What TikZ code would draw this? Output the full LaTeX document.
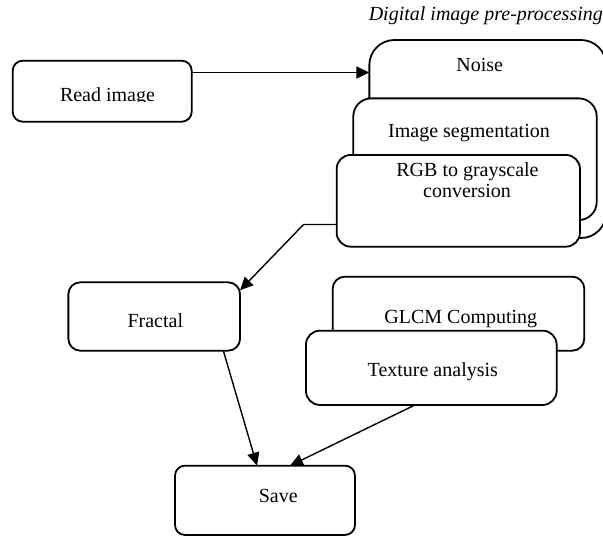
\documentclass[tikz,border=0pt]{standalone}
\usepackage{fontspec}
\setmainfont{Liberation Serif}
\usetikzlibrary{arrows.meta}

\begin{document}
\begin{tikzpicture}[x=1pt,y=-1pt,
  font=\fontsize{20}{24}\selectfont,
  box/.style={draw=black, line width=1.8pt, fill=white, inner sep=0pt, outer sep=0pt},
  lbl/.style={anchor=base, inner sep=0pt},
  arr/.style={line width=1.4pt, -{Triangle[length=13pt,width=12pt]}},
  line join=round]
\useasboundingbox (0,0) rectangle (603,536);

% title of the pre-processing group
\node[lbl, font=\fontsize{20}{24}\selectfont\itshape] (title) at (485.8,20) {Digital image pre-processing};

% first step
\node[box, rounded corners=10pt, minimum width=179pt, minimum height=61pt] (read) at (102.2,91.2) {};
\begin{scope}
  \clip (12,60) rectangle (192,101.2);
  \node[lbl] (readtxt) at (107.5,101.6) {Read image};
\end{scope}

% stacked pre-processing boxes
\node[box, rounded corners=25pt, minimum width=236.7pt, minimum height=198pt] (noise) at (487.7,139) {};
\node[lbl] (noisetxt) at (479.7,71.5) {Noise};
\node[box, rounded corners=18pt, minimum width=243.4pt, minimum height=121.7pt] (seg) at (475,159.2) {};
\node[lbl] (segtxt) at (469,137.5) {Image segmentation};
\node[box, rounded corners=14pt, minimum width=243.3pt, minimum height=91.7pt] (rgb) at (458.3,200.8) {};
\node[lbl] (rgbtxta) at (467.5,176) {RGB to grayscale};
\node[lbl] (rgbtxtb) at (467,197.3) {conversion};

% fractal step
\node[box, rounded corners=12pt, minimum width=171.7pt, minimum height=68.4pt] (fractal) at (154.2,316.5) {};
\node[lbl] (fractaltxt) at (155.3,327.3) {Fractal};

% texture boxes
\node[box, rounded corners=12pt, minimum width=251.6pt, minimum height=74pt] (glcm) at (458.5,313.7) {};
\node[lbl] (glcmtxt) at (460.8,323.3) {GLCM Computing};
\node[box, rounded corners=14pt, minimum width=250.7pt, minimum height=74.3pt] (texture) at (431.3,367.8) {};
\node[lbl] (texturetxt) at (432.8,376.7) {Texture analysis};

% final step
\node[box, rounded corners=10pt, minimum width=180pt, minimum height=69.3pt] (save) at (265,500.3) {};
\begin{scope}
  \clip (176,466) rectangle (354,502);
  \node[lbl] (savetxt) at (278.3,502.4) {Save};
\end{scope}

% connectors
\coordinate (readout) at (191.7,72.5);
\draw[arr] (readout) -- (readout -| noise.west);

\coordinate (bend) at (303.5,224.5);
\draw[arr] (rgb.west |- bend) -- (bend) -- ([yshift=-8pt]fractal.north east);

\draw[arr] ([xshift=-16.7pt]fractal.south east) -- ([xshift=-8pt]save.north);
\draw[arr] ([xshift=-16.3pt]texture.south) -- ([xshift=25pt]save.north);
\end{tikzpicture}
\end{document}
